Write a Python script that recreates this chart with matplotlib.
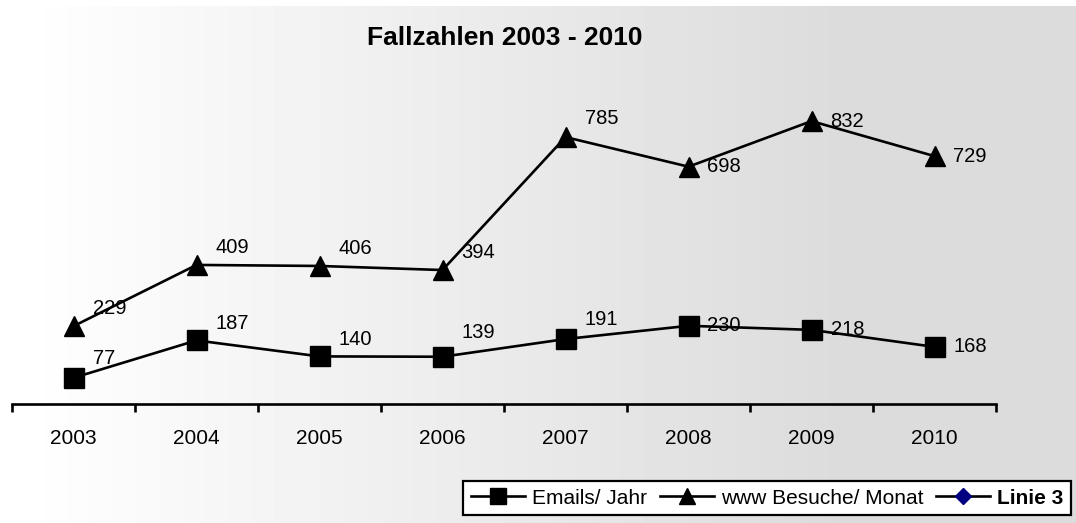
import numpy as np
import matplotlib
matplotlib.use("Agg")
import matplotlib.pyplot as plt
from matplotlib.lines import Line2D

plt.rcParams['font.family'] = ['Liberation Sans', 'DejaVu Sans']

# Daten
years = ["2003", "2004", "2005", "2006", "2007", "2008", "2009", "2010"]
emails = [77, 187, 140, 139, 191, 230, 218, 168]
besuche = [229, 409, 406, 394, 785, 698, 832, 729]

# Anhebung der Beschriftungen (px), 0 = rechts mittig
lift_emails = [19, 17, 17, 24, 20, 0, 0, 0]
lift_besuche = [18, 17, 17, 18, 19, 0, 0, 0]

W, H = 1076, 523
fig = plt.figure(figsize=(W / 100, H / 100), dpi=100)
fig.patch.set_facecolor("white")

# Hintergrund: Verlauf weiss -> grau
bg = fig.add_axes([0, 0, 1, 1 - 6 / H], zorder=-10)
xs = np.arange(W)
t = np.clip((xs - 20) / 810, 0, 1)
grad = 1 - (1 - 0.863) * t
bg.imshow(np.tile(grad, (2, 1)), cmap="gray", vmin=0, vmax=1, aspect="auto",
          extent=[0, 1, 0, 1])
bg.axis("off")

# Diagramm
x0, x1, y0, y1 = 12, 996, 404, 98
ax = fig.add_axes([x0 / W, (H - y0) / H, (x1 - x0) / W, (y0 - y1) / H])
ax.set_facecolor("none")

lw = 1.9
idx = np.arange(len(years))
ax.plot(idx, emails, color="black", lw=lw, marker="s", ms=14,
        mfc="black", mec="black", label="Emails/ Jahr", clip_on=False)
ax.plot(idx, besuche, color="black", lw=lw, marker="^", ms=15,
        mfc="black", mec="black", label="www Besuche/ Monat", clip_on=False)

px = 72 / 100
for i, v in enumerate(emails):
    ax.annotate(str(v), (i, v), xytext=(19 * px, lift_emails[i] * px),
                textcoords="offset points", ha="left", va="center", fontsize=14.5)
for i, v in enumerate(besuche):
    ax.annotate(str(v), (i, v), xytext=(19 * px, lift_besuche[i] * px),
                textcoords="offset points", ha="left", va="center", fontsize=14.5)

ax.set_xlim(-0.5, len(years) - 0.5)
ax.set_ylim(0, 900)
ax.set_yticks([])
for s in ["top", "right", "left"]:
    ax.spines[s].set_visible(False)
ax.spines["bottom"].set_linewidth(lw)

ax.set_xticks(np.arange(-0.5, len(years)), [""] * (len(years) + 1))
ax.tick_params(axis="x", which="major", length=6, width=lw, direction="out")
ax.set_xticks(idx, years, minor=True)
ax.tick_params(axis="x", which="minor", length=0, pad=18, labelsize=15)

fig.text(505 / W, 1 - 38 / H, "Fallzahlen 2003 - 2010", ha="center", va="center",
         fontsize=19, fontweight="bold")

# Legende
h1 = Line2D([], [], color="black", lw=lw, marker="s", ms=11, mfc="black", mec="black")
h2 = Line2D([], [], color="black", lw=lw, marker="^", ms=12, mfc="black", mec="black")
h3 = Line2D([], [], color="black", lw=lw, marker="D", ms=8, mfc="#000080", mec="#000080")
leg = fig.legend([h1, h2, h3], ["Emails/ Jahr", "www Besuche/ Monat", "Linie 3"],
                 loc="lower right", bbox_to_anchor=(1071 / W, 8 / H), ncol=3,
                 fontsize=15, frameon=True, fancybox=False, handlelength=2.6,
                 handletextpad=0.35, columnspacing=0.6, borderpad=0.35,
                 borderaxespad=0)
leg.get_frame().set_edgecolor("black")
leg.get_frame().set_linewidth(1.6)
leg.get_frame().set_facecolor("white")
leg.get_frame().set_alpha(1)
leg.get_texts()[2].set_fontweight("bold")

fig.savefig("out.png", dpi=100)
